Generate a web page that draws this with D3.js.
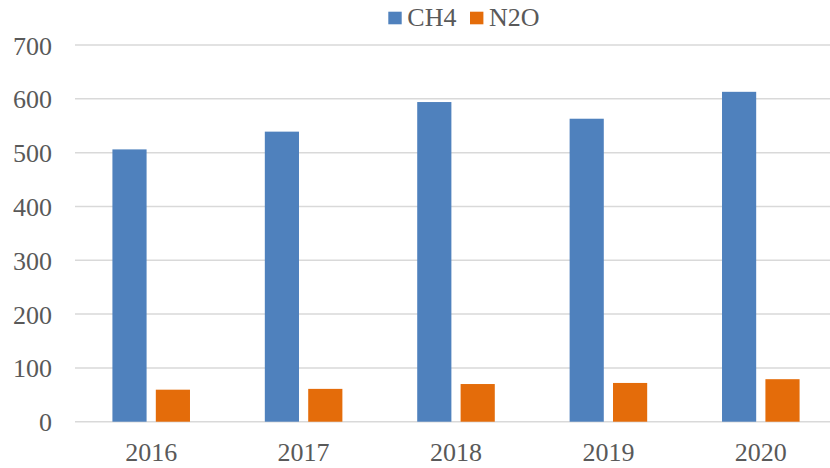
<!DOCTYPE html>
<html>
<head>
<meta charset="utf-8">
<script src="https://cdn.jsdelivr.net/npm/d3@7/dist/d3.min.js"></script>
<style>
html,body{margin:0;padding:0;background:#fff;}
svg{display:block;}
</style>
</head>
<body>
<svg id="chart" width="830" height="468"></svg>
<script>
const years = ["2016","2017","2018","2019","2020"];
const seriesNames = ["CH4","N2O"];
const ch4 = [506, 539, 594, 563, 613];
const n2o = [59.5, 61, 70, 72, 79];
const yTicks = [0,100,200,300,400,500,600,700];
const colors = ["#4F81BD","#E46C0A"];

const svg = d3.select("#chart");
const W = 830, H = 468;
const margin = {left:75, right:-7, top:45, bottom:46};
const x0 = d3.scaleBand().domain(years).range([margin.left, W - margin.right]).paddingInner(0).paddingOuter(0);
const y = d3.scaleLinear().domain([0,700]).range([421.7, 45]);

const bw = x0.bandwidth()/4.46;
const gap = bw*0.27;

// gridlines
svg.append("g").selectAll("line").data(yTicks).join("line")
  .attr("x1", margin.left).attr("x2", W)
  .attr("y1", d => y(d)).attr("y2", d => y(d))
  .attr("stroke", "#d9d9d9").attr("stroke-width", 1.5);

// y labels
const yAxis = d3.axisLeft(y).tickValues(yTicks).tickSize(0).tickPadding(0);
const ya = svg.append("g").attr("transform", "translate(52,0)").call(yAxis);
ya.select(".domain").remove();
ya.selectAll("text").attr("font-family", "'Liberation Serif','Times New Roman',serif")
  .attr("font-size", 26).attr("fill", "#595959").attr("dy", "0.35em");

// bars
const data = [ch4, n2o];
data.forEach((vals, si) => {
  svg.append("g").selectAll("rect").data(vals).join("rect")
    .attr("x", (d,i) => x0(years[i]) + x0.bandwidth()/2 - bw - gap/2 + si*(bw+gap))
    .attr("width", bw)
    .attr("y", d => y(d))
    .attr("height", d => y(0) - y(d))
    .attr("fill", colors[si]);
});

// x labels
const xAxis = d3.axisBottom(x0).tickSize(0).tickPadding(0);
const xa = svg.append("g").attr("transform", "translate(0,443)").call(xAxis);
xa.select(".domain").remove();
xa.selectAll("text").attr("font-family", "'Liberation Serif','Times New Roman',serif")
  .attr("font-size", 26).attr("fill", "#595959").attr("dy", "0.71em");

// legend
const legend = svg.append("g");
const legX = [388.3, 470];
seriesNames.forEach((n, i) => {
  legend.append("rect").attr("x", legX[i]).attr("y", 11.7).attr("width", 13.4).attr("height", 12.6).attr("fill", colors[i]);
  legend.append("text").attr("x", legX[i] + 19).attr("y", 25.7)
    .attr("font-family", "'Liberation Serif','Times New Roman',serif")
    .attr("font-size", 26).attr("fill", "#595959").text(n);
});
</script>
</body>
</html>
